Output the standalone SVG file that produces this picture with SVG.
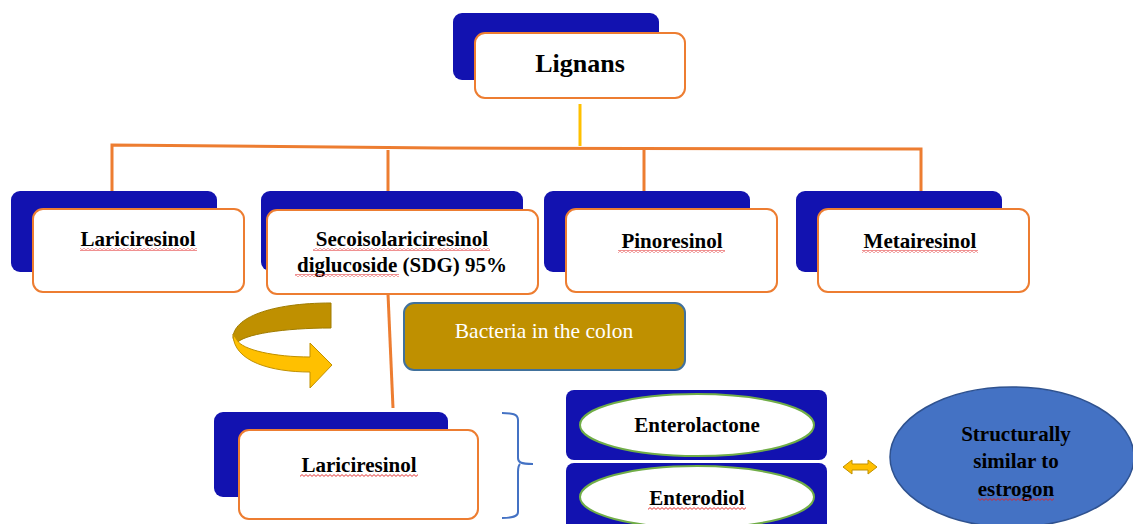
<svg xmlns="http://www.w3.org/2000/svg" width="1133" height="524" viewBox="0 0 1133 524">
<defs>
<pattern id="sq" width="4" height="3" patternUnits="userSpaceOnUse">
<path d="M0,2.4 L2,0.6 L4,2.4" fill="none" stroke="#E02020" stroke-width="0.9"/>
</pattern>
<style>
.back{fill:#1212B0;}
.card{fill:#fff;stroke:#ED7D31;stroke-width:2;}
.conn{stroke:#ED7D31;stroke-width:3;fill:none;}
.t{font-family:"Liberation Serif","Times New Roman",serif;font-weight:bold;font-size:21px;fill:#000;text-anchor:middle;}
.sq{fill:url(#sq);}
</style>
</defs>
<rect width="1133" height="524" fill="#fff"/>

<g id="connectors">
<line x1="580" y1="104" x2="580" y2="146" stroke="#FFC000" stroke-width="3"/>
<polyline class="conn" points="112,191 112,145 440,148 921,149 921,194"/>
<line class="conn" x1="388" y1="150" x2="388" y2="194"/>
<line class="conn" x1="644" y1="148" x2="644" y2="194"/>
<line class="conn" x1="388" y1="294" x2="393" y2="408"/>
</g>

<g id="lignans">
<rect class="back" x="453" y="13" width="206" height="67" rx="9"/>
<rect class="card" x="475" y="33" width="210" height="65" rx="10"/>
<text class="t" x="580" y="72" style="font-size:26px">Lignans</text>
</g>

<g id="lariciresinol-top">
<rect class="back" x="11" y="191" width="206" height="81" rx="9"/>
<rect class="card" x="33" y="209" width="211" height="83" rx="10"/>
<text class="t" x="138" y="246">Lariciresinol</text>
<rect class="sq" x="80" y="248" width="117" height="3"/>
</g>

<g id="sdg">
<rect class="back" x="261" y="191" width="262" height="80" rx="9"/>
<rect class="card" x="267" y="210" width="271" height="84" rx="10"/>
<text class="t" x="402" y="246">Secoisolariciresinol</text>
<text class="t" x="402" y="272">diglucoside (SDG) 95%</text>
<rect class="sq" x="313" y="248" width="177" height="3"/>
<rect class="sq" x="295" y="274" width="104" height="3"/>
</g>

<g id="pinoresinol">
<rect class="back" x="544" y="191" width="206" height="81" rx="9"/>
<rect class="card" x="566" y="209" width="211" height="83" rx="10"/>
<text class="t" x="672" y="248">Pinoresinol</text>
<rect class="sq" x="618" y="250" width="107" height="3"/>
</g>

<g id="metairesinol">
<rect class="back" x="796" y="191" width="206" height="81" rx="9"/>
<rect class="card" x="818" y="209" width="211" height="83" rx="10"/>
<text class="t" x="920" y="248">Metairesinol</text>
<rect class="sq" x="862" y="250" width="116" height="3"/>
</g>

<g id="curved-arrow">
<path d="M331,303 C270,303 233,318 233,338 L236,344 C242,334 285,328 331,328 Z" fill="#BF9000" stroke="#A07C00" stroke-width="1"/>
<path d="M233,334 C233,362 272,372 310,372 L310,388 L332,365 L310,343 L310,357 C275,357 242,350 237,340 Z" fill="#FFC000" stroke="#C09000" stroke-width="1"/>
</g>

<g id="bacteria">
<rect x="404" y="303" width="281" height="67" rx="10" fill="#BF9000" stroke="#41719C" stroke-width="2"/>
<text x="544" y="338" text-anchor="middle" font-family="Liberation Serif, Times New Roman, serif" font-size="21.5" fill="#fff">Bacteria in the colon</text>
</g>

<g id="lariciresinol-bottom">
<rect class="back" x="214" y="412" width="234" height="85" rx="9"/>
<rect class="card" x="239" y="430" width="239" height="89" rx="10"/>
<text class="t" x="359" y="472">Lariciresinol</text>
<rect class="sq" x="300" y="474" width="118" height="3"/>
</g>

<g id="bracket">
<path d="M502,413 C512,413 518,414 518,420 L518,458 C518,462 520,464 533,464 M520,464 C518,466 518,468 518,472 L518,512 C518,517 512,518 502,518" fill="none" stroke="#4472C4" stroke-width="2"/>
</g>

<g id="enterolactone">
<rect class="back" x="566" y="390" width="261" height="70" rx="8"/>
<ellipse cx="697" cy="425" rx="117" ry="31" fill="#fff" stroke="#70AD47" stroke-width="2"/>
<text class="t" x="697" y="432">Enterolactone</text>
</g>

<g id="enterodiol">
<rect class="back" x="566" y="463" width="261" height="70" rx="8"/>
<ellipse cx="697" cy="497" rx="117" ry="31" fill="#fff" stroke="#70AD47" stroke-width="2"/>
<text class="t" x="697" y="505">Enterodiol</text>
<rect class="sq" x="648" y="507" width="98" height="3"/>
</g>

<g id="double-arrow">
<path d="M843,467 L852,460 L852,464 L868,464 L868,460 L877,467 L868,474 L868,470 L852,470 L852,474 Z" fill="#FFC000" stroke="#C09000" stroke-width="1"/>
</g>

<g id="estrogen">
<ellipse cx="1012" cy="457" rx="122" ry="70" fill="#4472C4" stroke="#2F528F" stroke-width="1.5"/>
<text class="t" x="1016" y="441">Structurally</text>
<text class="t" x="1016" y="468">similar to</text>
<text class="t" x="1016" y="496">estrogon</text>
<rect class="sq" x="978" y="498" width="76" height="3"/>
</g>
</svg>
